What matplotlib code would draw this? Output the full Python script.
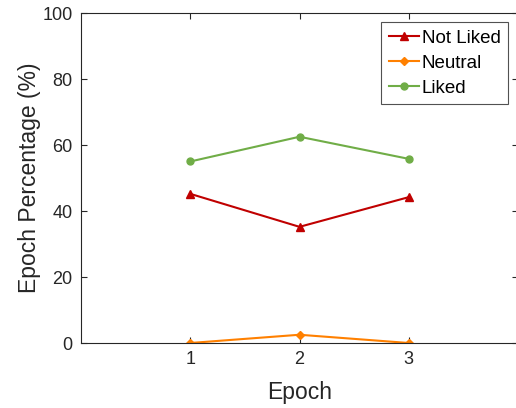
import matplotlib
matplotlib.use("Agg")
import matplotlib.pyplot as plt

epochs = [1, 2, 3]
not_liked = [45.2, 35.2, 44.2]
neutral = [0.0, 2.5, 0.0]
liked = [55.0, 62.5, 55.8]

plt.rcParams['font.family'] = ['Liberation Sans', 'DejaVu Sans']
axcol = '#262626'

fig = plt.figure(figsize=(5.16, 4.08), dpi=100)
ax = fig.add_axes([81 / 516, 1 - 343 / 408, 437 / 516, 330 / 408])

ax.plot(epochs, not_liked, color='#C00000', marker='^', markersize=6, linewidth=1.5, label='Not Liked')
ax.plot(epochs, neutral, color='#FF8000', marker='D', markersize=4.5, linewidth=1.5, label='Neutral')
ax.plot(epochs, liked, color='#70AD47', marker='o', markersize=5, linewidth=1.5, label='Liked')

ax.set_xlim(0, 4)
ax.set_ylim(0, 100)
ax.set_xticks([1, 2, 3])
ax.set_yticks([0, 20, 40, 60, 80, 100])
ax.tick_params(direction='in', length=4, labelsize=13, colors=axcol, top=True, right=True, pad=6)
for s in ax.spines.values():
    s.set_color(axcol)
    s.set_linewidth(0.8)

ax.set_xlabel('Epoch', fontsize=16.5, color=axcol, labelpad=9)
ax.set_ylabel('Epoch Percentage (%)', fontsize=16.5, color=axcol, labelpad=1)

leg = ax.legend(loc='upper right', bbox_to_anchor=(0.977, 0.973), fontsize=13.5, frameon=True,
                fancybox=False, edgecolor=axcol, handlelength=1.6, borderpad=0.4,
                labelspacing=0.42, handletextpad=0.15, borderaxespad=0)
leg.get_frame().set_linewidth(0.8)

fig.savefig('out.png', dpi=100)
